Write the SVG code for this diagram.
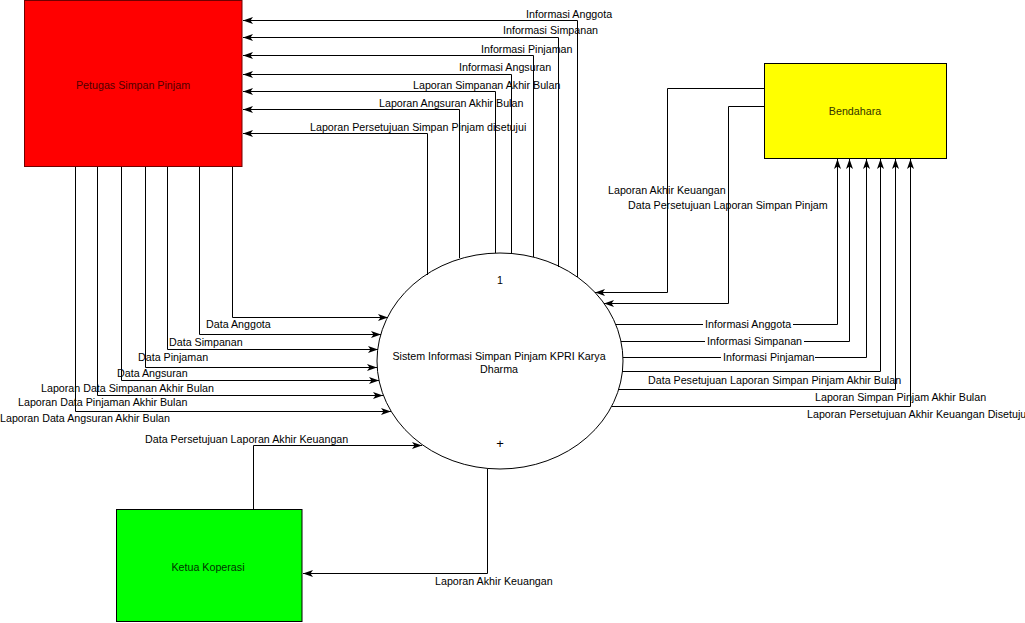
<svg xmlns="http://www.w3.org/2000/svg" width="1025" height="623" viewBox="0 0 1025 623">
<style>
text{font-family:"Liberation Sans",Arial,sans-serif;font-size:10.7px;fill:#000}
.c{text-anchor:middle}
.ln{fill:none;stroke:#000;stroke-width:1}
.a{marker-end:url(#arr)}
</style>
<defs>
<marker id="arr" markerUnits="userSpaceOnUse" markerWidth="10" markerHeight="8" refX="10" refY="4" orient="auto">
<path d="M0,0.5 L10,4 L0,7.5 L2.5,4 Z" fill="#000"/>
</marker>
</defs>
<rect width="1025" height="623" fill="#fff"/>

<g id="petugas">
<rect x="24.5" y="0.5" width="217.5" height="166" fill="#ff0000" stroke="#700000"/>
<text class="c" x="133" y="89" style="fill:#500000">Petugas Simpan Pinjam</text>
</g>

<g id="bendahara">
<rect x="764.5" y="63.5" width="182" height="95" fill="#ffff00" stroke="#000"/>
<text class="c" x="855" y="115" style="fill:#333300">Bendahara</text>
</g>

<g id="ketua">
<rect x="116.5" y="509.5" width="185.5" height="112" fill="#00ff00" stroke="#000"/>
<text class="c" x="208" y="571" style="fill:#003300">Ketua Koperasi</text>
</g>

<g id="proses">
<ellipse cx="500" cy="361" rx="123" ry="108" fill="#fff" stroke="#000"/>
<text class="c" x="500" y="284">1</text>
<text class="c" x="499" y="360">Sistem Informasi Simpan Pinjam KPRI Karya</text>
<text class="c" x="499" y="373">Dharma</text>
<text class="c" x="500" y="448" style="font-size:13px">+</text>
</g>

<g id="connectors">
<path class="ln a" d="M577.5,277 V20.5 H243"/>
<path class="ln a" d="M558.5,267 V37.5 H243"/>
<path class="ln a" d="M533.5,257 V55.5 H243"/>
<path class="ln a" d="M511.5,253 V74.5 H243"/>
<path class="ln a" d="M495.5,253 V91.5 H243"/>
<path class="ln a" d="M459.5,258 V109.5 H243"/>
<path class="ln a" d="M427.5,275 V133.5 H243"/>

<path class="ln a" d="M232.5,167 V317.5 H388"/>
<path class="ln a" d="M199.5,167 V334.5 H381"/>
<path class="ln a" d="M167.5,167 V349.5 H378"/>
<path class="ln a" d="M145.5,167 V367.5 H377"/>
<path class="ln a" d="M121.5,167 V380.5 H379"/>
<path class="ln a" d="M97.5,167 V395.5 H383"/>
<path class="ln a" d="M75.5,167 V411.5 H391"/>

<path class="ln" d="M616,324.5 H703"/>
<path class="ln a" d="M793,324.5 H837.5 V159"/>
<path class="ln" d="M621,341.5 H705"/>
<path class="ln a" d="M804,341.5 H849.5 V159"/>
<path class="ln" d="M623,357.5 H721"/>
<path class="ln a" d="M815,357.5 H866.5 V159"/>
<path class="ln a" d="M622,371.5 H880.5 V159"/>
<path class="ln a" d="M619,389.5 H895.5 V159"/>
<path class="ln a" d="M612,406.5 H910.5 V159"/>

<path class="ln a" d="M764,88.5 H667.5 V292.5 H595"/>
<path class="ln a" d="M764,106.5 H728.5 V303.5 H604"/>

<path class="ln a" d="M253.5,509 V445.5 H422"/>
<path class="ln a" d="M487.5,469 V573.5 H303"/>

<text x="526" y="18">Informasi Anggota</text>
<text x="503" y="34">Informasi Simpanan</text>
<text x="481" y="53">Informasi Pinjaman</text>
<text x="459" y="71">Informasi Angsuran</text>
<text x="413" y="89">Laporan Simpanan Akhir Bulan</text>
<text x="379" y="107">Laporan Angsuran Akhir Bulan</text>
<text x="310" y="131">Laporan Persetujuan Simpan Pinjam disetujui</text>

<text x="206" y="328">Data Anggota</text>
<text x="169" y="346">Data Simpanan</text>
<text x="138" y="361">Data Pinjaman</text>
<text x="117" y="377">Data Angsuran</text>
<text x="41" y="392">Laporan Data Simpanan Akhir Bulan</text>
<text x="18" y="406">Laporan Data Pinjaman Akhir Bulan</text>
<text x="0" y="422">Laporan Data Angsuran Akhir Bulan</text>

<text x="705" y="328">Informasi Anggota</text>
<text x="707" y="345">Informasi Simpanan</text>
<text x="723" y="361">Informasi Pinjaman</text>
<text x="648" y="384">Data Pesetujuan Laporan Simpan Pinjam Akhir Bulan</text>
<text x="815" y="401">Laporan Simpan Pinjam Akhir Bulan</text>
<text x="807" y="418">Laporan Persetujuan Akhir Keuangan Disetuju</text>

<text x="608" y="194">Laporan Akhir Keuangan</text>
<text x="628" y="209">Data Persetujuan Laporan Simpan Pinjam</text>

<text x="145" y="443">Data Persetujuan Laporan Akhir Keuangan</text>
<text x="435" y="585">Laporan Akhir Keuangan</text>
</g>
</svg>
